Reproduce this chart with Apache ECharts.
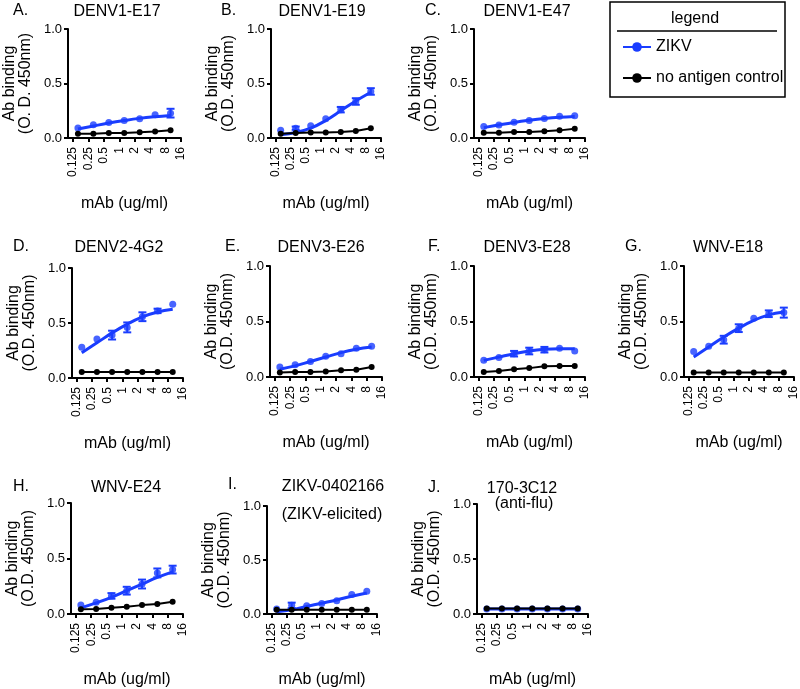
<!DOCTYPE html>
<html>
<head>
<meta charset="utf-8">
<script src="https://cdn.jsdelivr.net/npm/echarts@6/dist/echarts.min.js"></script>
<style>
html,body{margin:0;padding:0;background:#fff}
#chart{width:800px;height:689px}
</style>
</head>
<body>
<div id="chart"></div>
<script>

// mAb concentrations (ug/ml) of the dilution series
const conc = [0.15625,0.3125,0.625,1.25,2.5,5,10]
const xTicks = [0.125,0.25,0.5,1,2,4,8,16]

const letters = ["A.","B.","C.","D.","E.","F.","G.","H.","I.","J."]
const titles = ["DENV1-E17","DENV1-E19","DENV1-E47","DENV2-4G2","DENV3-E26","DENV3-E28","WNV-E18","WNV-E24","ZIKV-0402166","170-3C12"]
const subtitles = ["","","","","","","","","(ZIKV-elicited)","(anti-flu)"]
const yNames = ["Ab binding\n(O. D. 450nm)","Ab binding\n(O.D. 450nm)","Ab binding\n(O.D. 450nm)","Ab binding\n(O.D. 450nm)","Ab binding\n(O.D. 450nm)",
"Ab binding\n(O.D. 450nm)","Ab binding\n(O.D. 450nm)","Ab binding\n(O.D. 450nm)","Ab binding\n(O.D. 450nm)","Ab binding\n(O.D. 450nm)"]

/* ZIKV means */
const zikvA = [0.091,0.122,0.143,0.16,0.177,0.213,0.228]
const zikvB = [0.07,0.09,0.113,0.177,0.26,0.335,0.427]
const zikvC = [0.106,0.12,0.145,0.16,0.18,0.2,0.205]
const zikvD = [0.28,0.355,0.39,0.46,0.557,0.61,0.67]
const zikvE = [0.09,0.11,0.14,0.186,0.21,0.26,0.276]
const zikvF = [0.15,0.175,0.21,0.234,0.246,0.26,0.234]
const zikvG = [0.23,0.276,0.336,0.44,0.53,0.57,0.58]
const zikvH = [0.08,0.105,0.163,0.21,0.27,0.37,0.4]
const zikvI = [0.046,0.08,0.076,0.098,0.122,0.18,0.21]
const zikvJ = [0.045,0.045,0.045,0.045,0.045,0.045,0.045]

/* ZIKV error (half height of bar) */
const errA = [0,0,0,0,0,0,0.04]
const errB = [0,0.015,0,0,0.025,0.03,0.03]
const errC = [0,0,0,0,0,0,0]
const errD = [0,0,0.04,0.045,0.04,0.02,0]
const errE = [0,0,0,0,0,0,0]
const errF = [0,0,0.025,0.03,0.025,0,0]
const errG = [0,0,0.035,0.035,0,0.03,0.045]
const errH = [0,0,0.025,0.035,0.04,0.04,0.035]
const errI = [0,0.025,0,0,0,0,0]
const errJ = [0,0,0,0,0,0,0]

/* ZIKV fitted curve, read at each concentration */
const fitA = [0.082,0.11,0.137,0.16,0.18,0.195,0.207]
const fitB = [0.03,0.05,0.09,0.16,0.25,0.34,0.42]
const fitC = [0.095,0.12,0.143,0.162,0.178,0.19,0.198]
const fitD = [0.23,0.32,0.41,0.49,0.555,0.6,0.625]
const fitE = [0.07,0.1,0.14,0.18,0.22,0.25,0.27]
const fitF = [0.15,0.18,0.21,0.235,0.25,0.255,0.255]
const fitG = [0.18,0.27,0.36,0.44,0.51,0.56,0.585]
const fitH = [0.055,0.1,0.15,0.21,0.27,0.33,0.38]
const fitI = [0.02,0.04,0.07,0.1,0.13,0.165,0.195]
const fitJ = [0.045,0.045,0.045,0.045,0.045,0.045,0.045]

/* no antigen control */
const ctrlA = [0.04,0.04,0.046,0.046,0.052,0.06,0.07]
const ctrlB = [0.04,0.045,0.05,0.05,0.055,0.065,0.09]
const ctrlC = [0.048,0.048,0.054,0.054,0.063,0.07,0.085]
const ctrlD = [0.054,0.054,0.054,0.054,0.054,0.054,0.054]
const ctrlE = [0.04,0.045,0.045,0.05,0.06,0.066,0.09]
const ctrlF = [0.045,0.054,0.07,0.08,0.096,0.1,0.1]
const ctrlG = [0.04,0.04,0.04,0.04,0.04,0.04,0.04]
const ctrlH = [0.042,0.045,0.057,0.066,0.08,0.09,0.11]
const ctrlI = [0.04,0.04,0.04,0.04,0.04,0.04,0.04]
const ctrlJ = [0.05,0.05,0.05,0.05,0.05,0.05,0.05]

const zikv = [zikvA,zikvB,zikvC,zikvD,zikvE,zikvF,zikvG,zikvH,zikvI,zikvJ]
const errs = [errA,errB,errC,errD,errE,errF,errG,errH,errI,errJ]
const fits = [fitA,fitB,fitC,fitD,fitE,fitF,fitG,fitH,fitI,fitJ]
const ctrls = [ctrlA,ctrlB,ctrlC,ctrlD,ctrlE,ctrlF,ctrlG,ctrlH,ctrlI,ctrlJ]

/* layout: grid [left, top, width, height], letter [x, y], title centre [x, y] */
const boxes = [
[68,29,113,109],[271,29,110,109],[474,29,111,109],
[72,268,111,110],[270,266,112,111],[474,266,111,111],[684,266,110,111],
[71,503,112,111],[267,506,110,109],[477,504,111,110]
]
const letterPos = [[13,12],[221,12],[425,12],[13,248],[225,248],[428,248],[625,248],[13,488],[228,486],[428,489]]
const titlePos = [[117,12],[322,12],[527,12],[119,248],[321,248],[527,248],[728,248],[126,488],[333,487],[522,489]]
const subPos = [null,null,null,null,null,null,null,null,[332,515],[524,504]]

const BLUE = "#1a3dff"
const FONT = "Liberation Sans, Arial, sans-serif"

const chart = echarts.init(document.getElementById("chart"))

const grids = [], xAxes = [], yAxes = [], series = [], graphics = []

function pow2Label(v){
const l = Math.log2(v)
if(Math.abs(l - Math.round(l)) > 1e-6) return ""
return String(+v.toPrecision(6))
}

function errorBar(params, api){
const x = api.value(0), m = api.value(1), e = api.value(2)
if(!e) return
const top = api.coord([x, m + e])
const bot = api.coord([x, m - e])
const w = 4
const st = {stroke:BLUE, lineWidth:2}
return {
type:"group",
children:[
{type:"line", shape:{x1:top[0],y1:top[1],x2:bot[0],y2:bot[1]}, style:st},
{type:"line", shape:{x1:top[0]-w,y1:top[1],x2:top[0]+w,y2:top[1]}, style:st},
{type:"line", shape:{x1:bot[0]-w,y1:bot[1],x2:bot[0]+w,y2:bot[1]}, style:st}
]
}
}

for(let i = 0; i < 10; i++){

const b = boxes[i]
grids.push({left:b[0], top:b[1], width:b[2], height:b[3], containLabel:false})

xAxes.push({
type:"log", logBase:2, min:0.1, max:16, gridIndex:i,
axisLine:{show:true, lineStyle:{color:"#000", width:2}},
axisTick:{show:true, length:4, customValues:xTicks, lineStyle:{color:"#000", width:2}},
axisLabel:{rotate:90, fontSize:12, color:"#000", margin:9, fontFamily:FONT,
customValues:xTicks, formatter:pow2Label},
splitLine:{show:false},
minorTick:{show:false},
name:"mAb (ug/ml)", nameLocation:"middle", nameGap:58,
nameTextStyle:{fontSize:16, color:"#000", fontFamily:FONT}
})

yAxes.push({
type:"value", min:0, max:1, interval:0.5, gridIndex:i,
axisLine:{show:true, lineStyle:{color:"#000", width:2}},
axisTick:{show:true, length:4, lineStyle:{color:"#000", width:2}},
axisLabel:{fontSize:13, color:"#000", margin:6, fontFamily:FONT, formatter:v => v.toFixed(1)},
splitLine:{show:false},
name:yNames[i], nameLocation:"middle", nameRotate:90, nameGap:34,
nameTextStyle:{fontSize:16, lineHeight:16, color:"#000", fontFamily:FONT}
})

series.push({
name:"ZIKV", type:"line", xAxisIndex:i, yAxisIndex:i,
smooth:0.4, symbol:"circle", symbolSize:8, showSymbol:false,
itemStyle:{color:BLUE}, lineStyle:{color:BLUE, width:3},
data:conc.map((c,k) => [c, fits[i][k]]),
z:2, silent:true
})

series.push({
name:"ZIKV points", type:"scatter", xAxisIndex:i, yAxisIndex:i,
symbol:"circle", symbolSize:7, itemStyle:{color:BLUE},
data:conc.map((c,k) => [c, zikv[i][k]]),
z:3, silent:true
})

series.push({
name:"ZIKV error", type:"custom", xAxisIndex:i, yAxisIndex:i,
renderItem:errorBar, encode:{x:0, y:1},
data:conc.map((c,k) => [c, zikv[i][k], errs[i][k]]),
z:3, silent:true
})

series.push({
name:"no antigen control", type:"line", xAxisIndex:i, yAxisIndex:i,
symbol:"circle", symbolSize:6,
itemStyle:{color:"#000"}, lineStyle:{color:"#000", width:2},
data:conc.map((c,k) => [c, ctrls[i][k]]),
z:4, silent:true
})

graphics.push({
type:"text", left:letterPos[i][0], top:letterPos[i][1] - 9,
style:{text:letters[i], fontSize:16, fill:"#000", font:"16px " + FONT}
})
graphics.push({
type:"text", x:titlePos[i][0], y:titlePos[i][1],
style:{text:titles[i], fill:"#000", font:"16px " + FONT, textAlign:"center", textVerticalAlign:"middle"}
})
if(subPos[i]){
graphics.push({
type:"text", x:subPos[i][0], y:subPos[i][1],
style:{text:subtitles[i], fill:"#000", font:"16px " + FONT, textAlign:"center", textVerticalAlign:"middle"}
})
}

}

/* legend box */
graphics.push({
type:"rect", shape:{x:610, y:2, width:175, height:95},
style:{fill:"#fff", stroke:"#000", lineWidth:1.5}, z:-1
})
graphics.push({
type:"text", x:695, y:19,
style:{text:"legend", fill:"#000", font:"16px " + FONT, textAlign:"center", textVerticalAlign:"middle"}
})
graphics.push({
type:"line", shape:{x1:617, y1:31, x2:777, y2:31},
style:{stroke:"#000", lineWidth:1.5}
})

chart.setOption({
animation:false,
textStyle:{fontFamily:FONT},
grid:grids,
xAxis:xAxes,
yAxis:yAxes,
legend:{
data:["ZIKV","no antigen control"],
orient:"vertical", left:617, top:34,
itemWidth:28, itemHeight:12, itemGap:15,
selectedMode:false,
textStyle:{fontSize:16, color:"#000", fontFamily:FONT}
},
graphic:graphics,
series:series
})

</script>
</body>
</html>
